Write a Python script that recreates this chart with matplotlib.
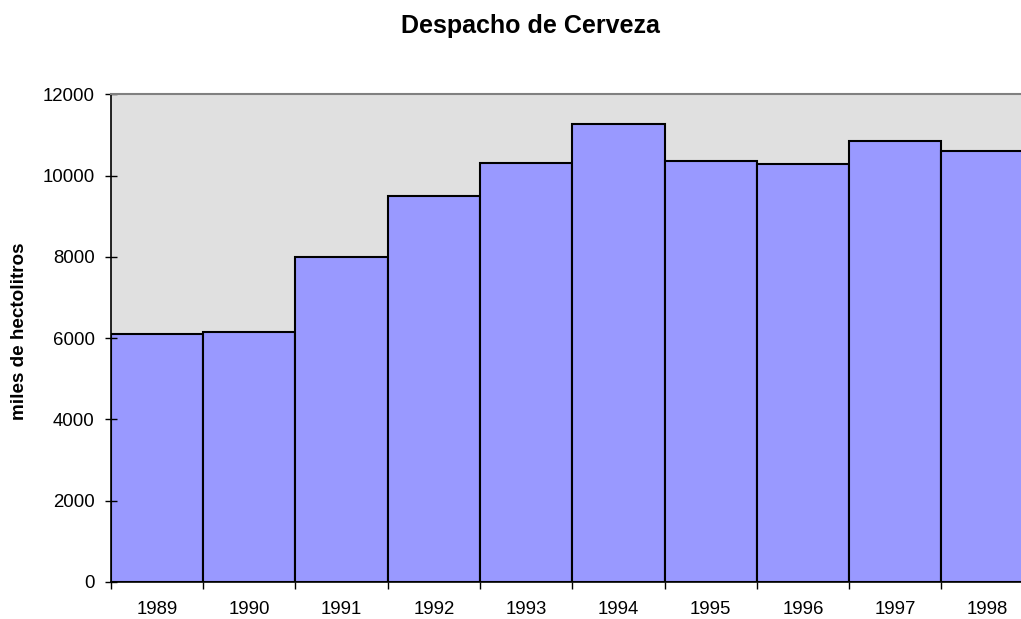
import numpy as np
import matplotlib.pyplot as plt

# datos
years = ['1989', '1990', '1991', '1992', '1993', '1994', '1995', '1996', '1997', '1998']
despacho = [6090, 6140, 7990, 9500, 10310, 11280, 10360, 10280, 10840, 10610]
yticks = [0, 2000, 4000, 6000, 8000, 10000, 12000]

plt.rcParams['font.family'] = ['Liberation Sans', 'DejaVu Sans']

fig = plt.figure(figsize=(10.21, 6.19), dpi=100)
ax = fig.add_axes([110.7 / 1021, 37 / 619, 923 / 1021, 487.7 / 619])
ax.set_facecolor('#e0e0e0')

x = np.arange(len(years))
ax.bar(x, despacho, width=1.0, color='#9999ff', edgecolor='black', linewidth=1.5)

ax.set_xlim(-0.5, len(years) - 0.5)
ax.set_ylim(0, 12000)
ax.set_yticks(yticks)
ax.set_yticklabels([str(v) for v in yticks], fontsize=13.4)

# marcas en los limites de cada categoria, etiquetas centradas
ax.set_xticks(np.arange(len(years) + 1) - 0.5)
ax.set_xticklabels([])
ax.set_xticks(x, minor=True)
ax.set_xticklabels(years, minor=True, fontsize=13.4)
ax.tick_params(axis='x', which='major', direction='out', length=5, width=1)
ax.tick_params(axis='x', which='minor', length=0, pad=14)
ax.tick_params(axis='y', direction='inout', length=9, width=1, pad=7)

ax.spines['top'].set_color('#808080')
ax.spines['top'].set_linewidth(1.5)
ax.spines['right'].set_visible(False)
ax.spines['left'].set_linewidth(1.2)
ax.spines['bottom'].set_linewidth(1.2)

fig.text(530 / 1021, 1 - 26 / 619, 'Despacho de Cerveza', ha='center', va='center',
         fontsize=18, fontweight='bold')
fig.text(19 / 1021, 1 - 331.5 / 619, 'miles de hectolitros', ha='center', va='center',
         rotation=90, fontsize=13.6, fontweight='bold')

fig.savefig('out.png', dpi=100)
